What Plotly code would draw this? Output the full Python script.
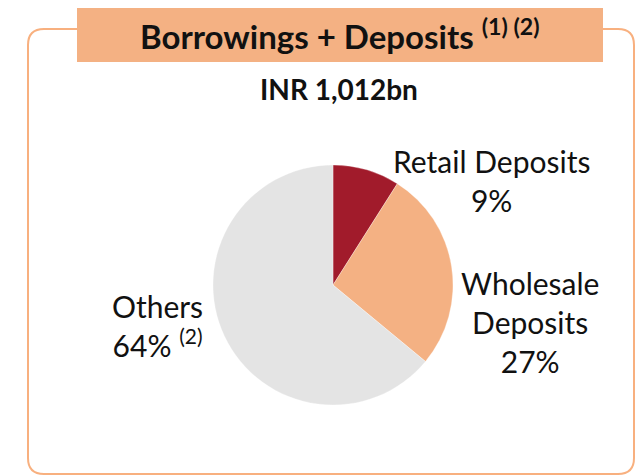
import plotly.graph_objects as go

W, H = 644, 476
OFF = 8  # page body margin offset

labels = ["Retail Deposits", "Wholesale Deposits", "Others"]
values = [9, 27, 64]
colors = ["#A11B2B", "#F4B183", "#E4E4E4"]
label_texts = ["Retail Deposits<br>9%", "Wholesale<br>Deposits<br>27%", "Others<br>64% <sup>(2)</sup>"]
title_text = "<b>Borrowings + Deposits <sup>(1) (2)</sup></b>"
subtitle_text = "<b>INR 1,012bn</b>"

def px(x):
    return (x - OFF) / W

def py(y):
    return 1 - (y - OFF) / H

FONT = "Lato"

fig = go.Figure()
fig.add_trace(go.Pie(
    labels=labels, values=values, sort=False, direction="clockwise", rotation=0,
    marker=dict(colors=colors, line=dict(color="rgba(255,255,255,0.6)", width=0.5)),
    textinfo="none", hoverinfo="label+percent", showlegend=False,
    domain=dict(x=[px(213), px(453)], y=[py(405), py(165)]),
))

# rounded border
x0, x1, y0, y1, r = 28, 634, 29, 474, 16
path = (f"M {px(x0+r)},{py(y0)} L {px(x1-r)},{py(y0)} "
        f"Q {px(x1)},{py(y0)} {px(x1)},{py(y0+r)} "
        f"L {px(x1)},{py(y1-r)} Q {px(x1)},{py(y1)} {px(x1-r)},{py(y1)} "
        f"L {px(x0+r)},{py(y1)} Q {px(x0)},{py(y1)} {px(x0)},{py(y1-r)} "
        f"L {px(x0)},{py(y0+r)} Q {px(x0)},{py(y0)} {px(x0+r)},{py(y0)} Z")
shapes = [
    dict(type="path", xref="paper", yref="paper", path=path,
         line=dict(color="#F8B07F", width=2), fillcolor="rgba(0,0,0,0)", layer="below"),
    dict(type="rect", xref="paper", yref="paper", x0=px(77), x1=px(603), y0=py(62), y1=1,
         line=dict(width=0), fillcolor="#F4B183", layer="below"),
]

annotations = [
    dict(text=title_text, x=px(340), y=py(34), xref="paper", yref="paper", showarrow=False,
         font=dict(family=FONT, size=33, color="#111111"), xanchor="center", yanchor="middle"),
    dict(text=subtitle_text, x=px(339), y=py(89), xref="paper", yref="paper", showarrow=False,
         font=dict(family=FONT, size=28, color="#111111"), xanchor="center", yanchor="middle"),
    dict(text=label_texts[0], x=px(491), y=py(180), xref="paper", yref="paper", showarrow=False,
         font=dict(family=FONT, size=30, color="#111111"), xanchor="center", yanchor="middle", align="center"),
    dict(text=label_texts[1], x=px(530), y=py(322), xref="paper", yref="paper", showarrow=False,
         font=dict(family=FONT, size=30, color="#111111"), xanchor="center", yanchor="middle", align="center"),
    dict(text=label_texts[2], x=px(157), y=py(325), xref="paper", yref="paper", showarrow=False,
         font=dict(family=FONT, size=30, color="#111111"), xanchor="center", yanchor="middle", align="center"),
]

fig.update_layout(width=W, height=H, margin=dict(l=0, r=0, t=0, b=0),
                  paper_bgcolor="white", plot_bgcolor="white",
                  shapes=shapes, annotations=annotations)
fig.write_html("out.html")
